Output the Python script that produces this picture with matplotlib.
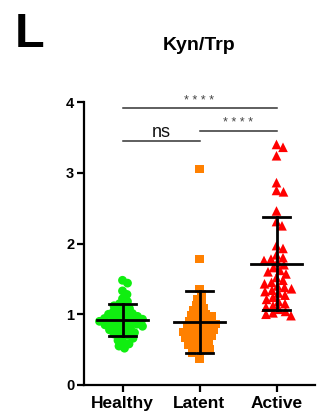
import numpy as np
import matplotlib
matplotlib.use("Agg")
import matplotlib.pyplot as plt

plt.rcParams['font.family'] = ['Liberation Sans', 'DejaVu Sans']

# ---- data ----
categories = ["Healthy", "Latent", "Active"]
healthy = [1.48, 1.44, 1.33, 1.28, 1.22, 1.18, 1.15, 1.12, 1.10, 1.08, 1.06, 1.04,
           1.02, 1.01, 1.00, 0.98, 0.97, 0.96, 0.95, 0.94, 0.93, 0.92, 0.91, 0.90,
           0.89, 0.88, 0.87, 0.86, 0.85, 0.84, 0.83, 0.82, 0.80, 0.78, 0.77, 0.75,
           0.74, 0.72, 0.70, 0.68, 0.66, 0.63, 0.60, 0.58, 0.55, 0.52]
latent = [3.05, 1.78, 1.36, 1.28, 1.22, 1.17, 1.13, 1.09, 1.06, 1.03, 1.00, 0.98,
          0.97, 0.95, 0.92, 0.90, 0.89, 0.87, 0.86, 0.84, 0.82, 0.81, 0.79, 0.78,
          0.76, 0.75, 0.73, 0.72, 0.70, 0.68, 0.66, 0.65, 0.63, 0.61, 0.59, 0.57,
          0.55, 0.52, 0.50, 0.48, 0.45, 0.37]
active = [3.40, 3.36, 3.24, 2.86, 2.75, 2.73, 2.46, 2.31, 2.25, 1.97, 1.93, 1.84,
          1.80, 1.78, 1.76, 1.74, 1.70, 1.66, 1.62, 1.60, 1.57, 1.52, 1.48, 1.45,
          1.43, 1.40, 1.38, 1.36, 1.34, 1.32, 1.30, 1.27, 1.24, 1.21, 1.18, 1.15,
          1.12, 1.10, 1.07, 1.04, 1.02, 1.00, 0.98]
groups = [healthy, latent, active]
colors = ["#10EE10", "#FF8000", "#FF0000"]
markers = ["o", "s", "^"]
marker_sizes = [40, 36, 48]
yticks = [0, 1, 2, 3, 4]
# significance comparisons: (group a, group b, bar height, label)
comparisons = [(0, 2, 3.91, "* * * *"), (1, 2, 3.59, "* * * *"), (0, 1, 3.45, "ns")]

W, H, DPI = 326, 416, 100
fig = plt.figure(figsize=(W / DPI, H / DPI), dpi=DPI)
ax = fig.add_axes([84 / W, 31 / H, 231 / W, 283 / H])
ax.set_xlim(-0.5, 2.5)
ax.set_ylim(0, 4)

# pixel scales for swarm layout
ppu_x = 231 / 3.0
ppu_y = 283 / 4.0


def swarm(vals, diam):
    vals = np.asarray(vals, float)
    ypx = vals * ppu_y
    xs = np.zeros(len(vals))
    placed = []
    order = np.argsort(-vals)
    offs = [0.0]
    for k in range(1, 200):
        offs += [k * 0.5, -k * 0.5]
    for i in order:
        for o in offs:
            ok = True
            for (px, py) in placed:
                if (px - o) ** 2 + (py - ypx[i]) ** 2 < diam ** 2:
                    ok = False
                    break
            if ok:
                xs[i] = o
                placed.append((o, ypx[i]))
                break
    return xs / ppu_x


swarm_diam = [5.6, 6.0, 6.8]
for gi, vals in enumerate(groups):
    offs = swarm(vals, swarm_diam[gi])
    ax.scatter(gi + offs, vals, s=marker_sizes[gi], marker=markers[gi],
               color=colors[gi], edgecolors="none", zorder=2, clip_on=False)
    m = np.mean(vals)
    sd = np.std(vals, ddof=1)
    ax.plot([gi - 0.33, gi + 0.33], [m, m], color="black", lw=2, zorder=3)
    ax.plot([gi, gi], [m - sd, m + sd], color="black", lw=2, zorder=3)
    for yv in (m - sd, m + sd):
        ax.plot([gi - 0.17, gi + 0.17], [yv, yv], color="black", lw=2, zorder=3)

for a, b, h, lab in comparisons:
    ax.plot([a, b], [h, h], color="#333333", lw=1.1, clip_on=False)
    if lab == "ns":
        ax.text((a + b) / 2, h + 0.055, lab, ha="center", va="baseline",
                fontsize=13, color="#111111")
    else:
        ax.text((a + b) / 2, h + 0.065, lab, ha="center", va="baseline",
                fontsize=9, color="#444444")

for s in ("top", "right"):
    ax.spines[s].set_visible(False)
for s in ("left", "bottom"):
    ax.spines[s].set_linewidth(1.6)
ax.set_yticks(yticks)
ax.set_yticklabels([str(t) for t in yticks], fontsize=10.5, fontweight="bold")
ax.set_xticks(range(len(categories)))
ax.set_xticklabels(categories, fontsize=12.5, fontweight="bold")
ax.tick_params(axis="both", width=1.6, length=5, direction="out")
ax.tick_params(axis="y", pad=2)
ax.tick_params(axis="x", pad=3)

fig.text(199.5 / W, 1 - 50 / H, "Kyn/Trp", ha="center", va="baseline",
         fontsize=14, fontweight="bold")
fig.text(14.5 / W, 1 - 47.3 / H, "L", ha="left", va="baseline", fontsize=35,
         fontweight="bold")

fig.savefig("out.png", dpi=DPI)
